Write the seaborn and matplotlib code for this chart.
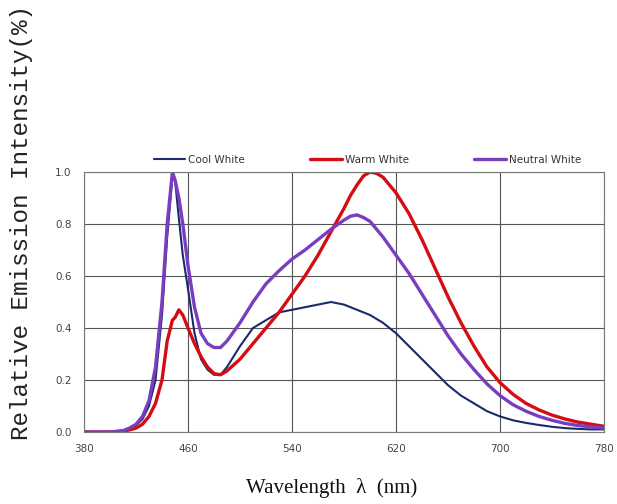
import pandas as pd
import numpy as np
import matplotlib
matplotlib.use("Agg")
import matplotlib.pyplot as plt
import seaborn as sns

# --- data (relative intensity vs wavelength, nm) ---
wavelength = [380, 390, 400, 410, 415, 420, 425, 430, 435, 440, 444, 448, 450, 453, 456,
              460, 465, 470, 475, 480, 485, 490, 500, 510, 520, 530, 540, 550, 560, 570,
              580, 585, 590, 595, 600, 605, 610, 620, 630, 640, 650, 660, 670, 680, 690,
              700, 710, 720, 730, 740, 750, 760, 770, 780]

cool_white = [0, 0, 0, 0.005, 0.01, 0.025, 0.05, 0.1, 0.2, 0.45, 0.75, 0.98, 0.97, 0.82, 0.68,
              0.55, 0.38, 0.28, 0.24, 0.22, 0.22, 0.25, 0.33, 0.40, 0.43, 0.46, 0.47, 0.48, 0.49, 0.50,
              0.49, 0.48, 0.47, 0.46, 0.45, 0.435, 0.42, 0.38, 0.33, 0.28, 0.23, 0.18, 0.14, 0.11, 0.08,
              0.06, 0.045, 0.035, 0.027, 0.02, 0.015, 0.012, 0.01, 0.01]

warm_white = [0, 0, 0, 0.003, 0.008, 0.015, 0.03, 0.06, 0.11, 0.2, 0.35, 0.43, 0.44, 0.47, 0.45,
              0.40, 0.34, 0.29, 0.25, 0.225, 0.22, 0.235, 0.28, 0.34, 0.40, 0.46, 0.53, 0.60, 0.68, 0.77,
              0.86, 0.91, 0.95, 0.985, 1.0, 0.995, 0.98, 0.92, 0.84, 0.74, 0.63, 0.52, 0.42, 0.33, 0.25,
              0.19, 0.145, 0.11, 0.085, 0.065, 0.05, 0.038, 0.03, 0.022]

neutral_white = [0, 0, 0, 0.005, 0.015, 0.03, 0.06, 0.12, 0.25, 0.5, 0.8, 1.0, 0.97, 0.9, 0.8,
                 0.64, 0.48, 0.38, 0.34, 0.325, 0.325, 0.35, 0.42, 0.5, 0.57, 0.62, 0.665, 0.70, 0.74, 0.78,
                 0.815, 0.83, 0.835, 0.825, 0.81, 0.78, 0.75, 0.68, 0.61, 0.53, 0.45, 0.37, 0.30, 0.24, 0.185,
                 0.14, 0.105, 0.08, 0.06, 0.045, 0.033, 0.025, 0.02, 0.015]

series_names = ["Cool White", "Warm White", "Neutral White"]
colors = {"Cool White": "#1b2a6b", "Warm White": "#d40d12", "Neutral White": "#7a3dbf"}
widths = {"Cool White": 1.5, "Warm White": 2.4, "Neutral White": 2.4}

df = pd.DataFrame({
    "wavelength": wavelength * 3,
    "intensity": cool_white + warm_white + neutral_white,
    "series": sum([[n] * len(wavelength) for n in series_names], []),
})

# --- plot ---
sns.set_style("white")
fig = plt.figure(figsize=(6.17, 5.04), dpi=100)
ax = fig.add_axes([84 / 617, 1 - 432 / 504, 520 / 617, 260 / 504])

for name in series_names:
    sns.lineplot(data=df[df["series"] == name], x="wavelength", y="intensity",
                 color=colors[name], linewidth=widths[name], label=name, ax=ax)

ax.set_xlim(380, 780)
ax.set_ylim(0, 1.0)
ax.set_xticks(range(380, 781, 80))
ax.set_yticks(np.arange(0, 1.01, 0.2))
ax.set_yticklabels([f"{v:.1f}" for v in np.arange(0, 1.01, 0.2)])
ax.grid(True, color="#555555", linewidth=0.8)
for s in ax.spines.values():
    s.set_color("#777777")
    s.set_linewidth(0.8)
ax.tick_params(axis="both", labelsize=7.5, labelcolor="#444444", length=0, pad=9)
ax.set_xlabel("")
ax.set_ylabel("")

leg = ax.legend(loc="lower center", bbox_to_anchor=(0.545, 1.012), ncol=3, frameon=False,
                fontsize=7.5, handlelength=3.0, columnspacing=6.3, handletextpad=0.3,
                borderaxespad=0)
for t in leg.get_texts():
    t.set_color("#333333")

fig.text(22 / 617, 1 - 222 / 504, "Relative Emission Intensity(%)", rotation=90,
         family="Liberation Mono", fontsize=17.5, ha="center", va="center", color="#222222")
fig.text(332 / 617, 1 - 488 / 504, "Wavelength  \u03bb  (nm)", family="Liberation Serif",
         fontsize=15, ha="center", va="center", color="#111111")

fig.savefig("out.png", dpi=100)
